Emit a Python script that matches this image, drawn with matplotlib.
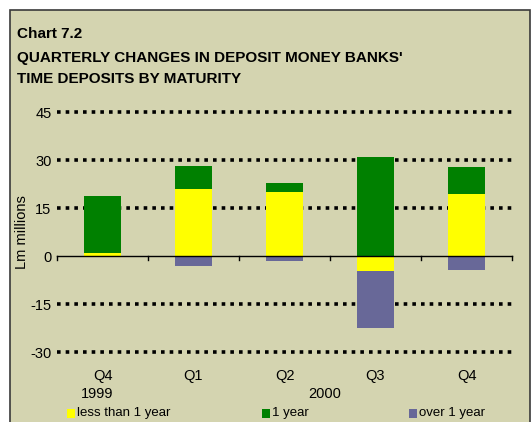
import matplotlib
matplotlib.use("Agg")
import matplotlib.pyplot as plt
from matplotlib import font_manager
from matplotlib.patches import Rectangle
import matplotlib.transforms as mtransforms
import numpy as np

# data (Lm millions)
quarters = ["Q4", "Q1", "Q2", "Q3", "Q4"]
years = ["1999", "2000"]
year_pos = [0, 2.5]
less_than_1y = [1.0, 20.9, 20.0, -4.7, 19.4]
one_year = [17.8, 7.2, 2.8, 31.0, 8.4]
over_1y = [0.0, -3.0, -1.5, -17.7, -4.4]
y_ticks = [-30, -15, 0, 15, 30, 45]

names = {f.name for f in font_manager.fontManager.ttflist}
fam = "Liberation Sans Narrow" if "Liberation Sans Narrow" in names else "Liberation Sans"
plt.rcParams["font.family"] = [fam, "DejaVu Sans"]

W, H = 531, 422
bg = "#d4d4b0"
fig = plt.figure(figsize=(W / 100, H / 100), dpi=100)
fig.patch.set_facecolor("white")
frame = Rectangle((10 / W, -0.01), 520 / W, 1.01 - 10 / H, transform=fig.transFigure,
                  facecolor=bg, edgecolor="#3a3a3a", lw=1.2, zorder=-10)
fig.patches.append(frame)

ax = fig.add_axes([57 / W, 1 - 352 / H, 455 / W, 240 / H])
ax.set_facecolor("none")

x = np.arange(len(quarters))
series = [(less_than_1y, "#ffff00", "less than 1 year"),
          (one_year, "#008000", "1 year"),
          (over_1y, "#686898", "over 1 year")]
pos_base = np.zeros(len(x))
neg_base = np.zeros(len(x))
for vals, col, lab in series:
    v = np.array(vals)
    bottom = np.where(v >= 0, pos_base, neg_base)
    ax.bar(x, v, width=0.4, bottom=bottom, color=col, label=lab, zorder=3)
    pos_base += np.where(v >= 0, v, 0)
    neg_base += np.where(v < 0, v, 0)

ax.set_xlim(-0.5, 4.5)
ax.set_ylim(-30, 45)
for yv in y_ticks:
    if yv != 0:
        ax.axhline(yv, color="black", lw=2.6, linestyle=(0, (1, 1.4)), zorder=1, clip_on=False)

for s in ["top", "right", "left"]:
    ax.spines[s].set_visible(False)
ax.spines["bottom"].set_position(("data", 0))
ax.spines["bottom"].set_linewidth(1.0)
ax.spines["bottom"].set_zorder(4)
ax.set_xticks(np.arange(-0.5, 4.6, 1))
ax.tick_params(axis="x", direction="in", length=0, labelbottom=False)
for b in np.arange(-0.5, 4.6, 1):
    ax.plot([b, b], [0, -1.2], color="black", lw=1.0, zorder=4, clip_on=False)
ax.set_yticks(y_ticks)
ax.set_yticklabels([str(t) for t in y_ticks])
ax.tick_params(axis="y", length=0, pad=4, labelsize=10.5)

tr = mtransforms.blended_transform_factory(ax.transData, fig.transFigure)
for xi, q in zip(x, quarters):
    ax.text(xi, 1 - 376 / H, q, transform=tr, ha="center", va="center", fontsize=10.5)
for xp, yr in zip(year_pos, years):
    ax.text(xp - 0.06, 1 - 394 / H, yr, transform=tr, ha="center", va="center", fontsize=10.5)

fig.text(22 / W, 1 - 232 / H, "Lm millions", rotation=90, ha="center", va="center", fontsize=10.5)

fig.text(17 / W, 1 - 34 / H, "Chart 7.2", ha="left", va="center", fontsize=11, fontweight="bold")
fig.text(17 / W, 1 - 58 / H, "QUARTERLY CHANGES IN DEPOSIT MONEY BANKS'", ha="left", va="center",
         fontsize=11, fontweight="bold")
fig.text(17 / W, 1 - 79 / H, "TIME DEPOSITS BY MATURITY", ha="left", va="center",
         fontsize=11, fontweight="bold")

# legend laid out in one row
leg_x = [67, 262, 409]
for lx, (vals, col, lab) in zip(leg_x, series):
    fig.patches.append(Rectangle((lx / W, 1 - 418 / H), 8 / W, 9 / H, transform=fig.transFigure,
                                 facecolor=col, edgecolor="none", zorder=5))
    fig.text((lx + 10) / W, 1 - 413 / H, lab, ha="left", va="center", fontsize=9.5)

fig.savefig("out.png", dpi=100, facecolor=fig.get_facecolor())
